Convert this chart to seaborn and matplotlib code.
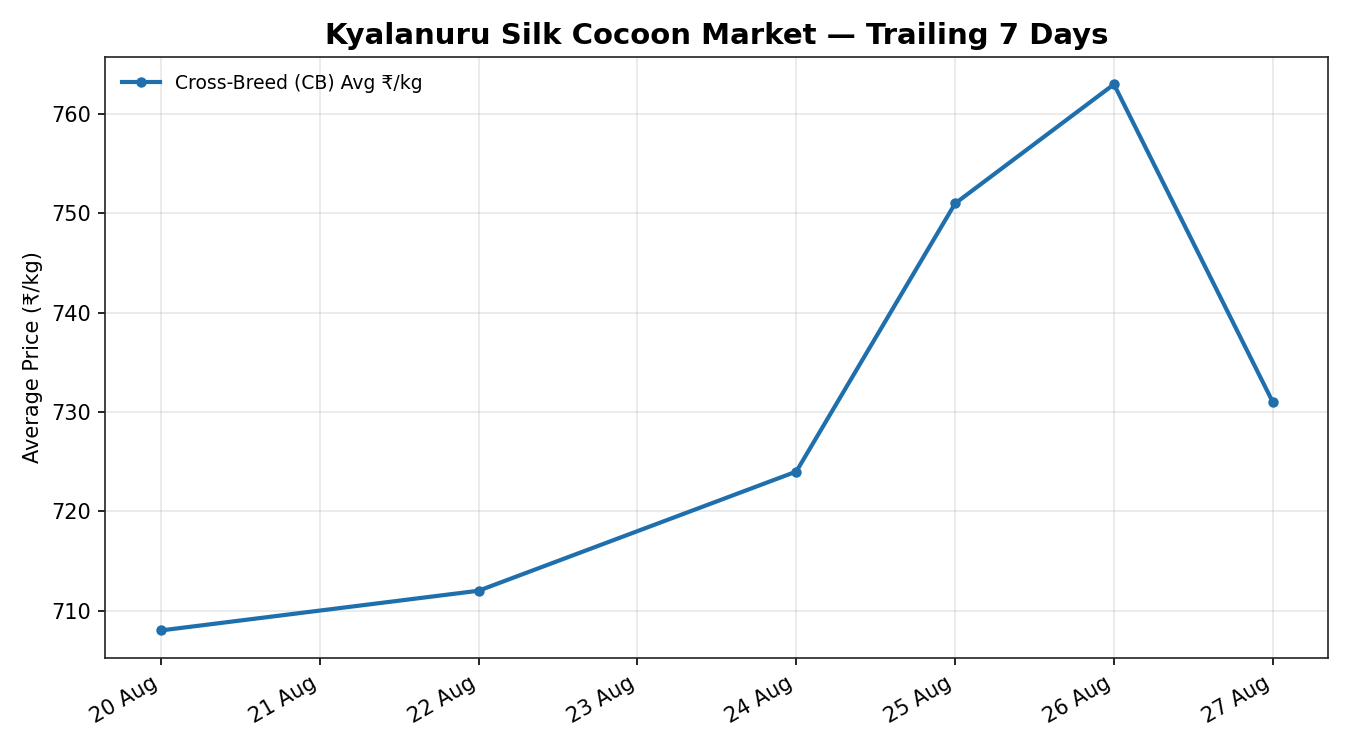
import pandas as pd
import matplotlib
matplotlib.use("Agg")
import matplotlib.pyplot as plt
import matplotlib.dates as mdates
import seaborn as sns

dates = ["2024-08-20", "2024-08-22", "2024-08-24", "2024-08-25", "2024-08-26", "2024-08-27"]
cb_avg_price = [708, 712, 724, 751, 763, 731]
series_label = "Cross-Breed (CB) Avg ₹/kg"

df = pd.DataFrame({"date": pd.to_datetime(dates), "price": cb_avg_price})

plt.rcParams['font.family'] = ['DejaVu Sans']
plt.rcParams['font.sans-serif'] = ['DejaVu Sans']

fig, ax = plt.subplots(figsize=(9, 5), dpi=150)
sns.lineplot(data=df, x="date", y="price", ax=ax, color="#1f6fad", linewidth=2,
             marker="o", markersize=5, markeredgewidth=0, label=series_label)

ax.set_title("Kyalanuru Silk Cocoon Market — Trailing 7 Days", fontsize=14, fontweight="bold")
ax.set_xlabel("")
ax.set_ylabel("Average Price (₹/kg)", fontsize=10)
ax.grid(True, color="#b0b0b0", linewidth=0.8, alpha=0.3)
ax.set_axisbelow(True)

ax.xaxis.set_major_locator(mdates.DayLocator())
ax.xaxis.set_major_formatter(mdates.DateFormatter("%d %b"))
ax.tick_params(labelsize=10)
for spine in ax.spines.values():
    spine.set_color("#222222")

ax.legend(loc="upper left", frameon=False, fontsize=9)

fig.autofmt_xdate(rotation=30, ha="right")
fig.subplots_adjust(left=0.078, right=0.984, top=0.924, bottom=0.123)
fig.savefig("out.png", dpi=150)
